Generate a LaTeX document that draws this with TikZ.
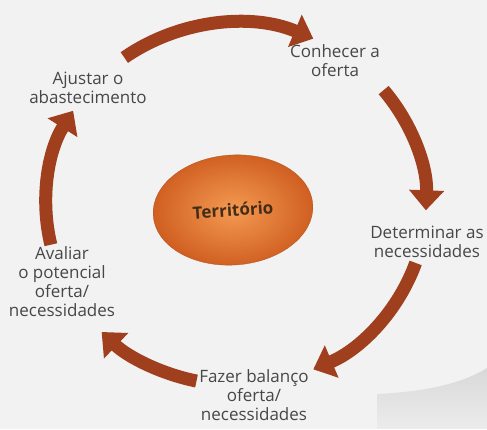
\documentclass[tikz,border=0pt]{standalone}
\usepackage{fontspec}
\setmainfont{Open Sans}
\usepackage{tikz}
\usetikzlibrary{shapes.geometric, arrows.meta, positioning}
\definecolor{fundo}{HTML}{F2F2F3}
\definecolor{seta}{HTML}{A03F1E}
\definecolor{texto}{HTML}{474747}
\definecolor{laranja}{HTML}{F49A52}
\definecolor{laranjaesc}{HTML}{CF5E20}
\tikzset{
  etapa/.style = {
    align=center,
    text=texto,
    font=\fontsize{17}{19}\selectfont
  },
  centro/.style = {
    ellipse,
    minimum width=160pt,
    minimum height=110pt,
    inner color=laranja,
    outer color=laranjaesc,
    draw=laranjaesc!85!black,
    line width=0.3pt,
    text=black!65!brown,
    font=\fontsize{17}{19}\selectfont\bfseries,
    rotate=4
  },
  fluxo/.style = {
    line width=13pt,
    draw=seta,
    -{Triangle[length=20pt,width=34pt]}
  }
}

\begin{document}
\begin{tikzpicture}[x=1pt, y=1pt]

% ===== Fundo =====
\fill[fundo] (-236,-225) rectangle (251,204);
\useasboundingbox (-236,-225) rectangle (251,204);
\shade[top color=gray!30, bottom color=gray!15]
  (141,-225) -- (141,-190) .. controls (184,-188) and (224,-181) .. (251,-164)
  -- (251,-225) -- cycle;

% ===== Centro =====
\node (terr) [centro] at (-3,-6) {Território};

% ===== Etapas (sentido horário) =====
\node (conh) [etapa] at (99,143)   {Conhecer a\\oferta};
\node (dete) [etapa] at (191,-38)  {Determinar as\\necessidades};
\node (faze) [etapa] at (18,-191)  {Fazer balanço\\oferta/\\necessidades};
\node (aval) [etapa] at (-174,-78) {Avaliar\\o potencial\\oferta/\\necessidades};
\node (ajus) [etapa] at (-148,116) {Ajustar o\\abastecimento};

% ===== Pontos de partida das setas =====
\coordinate (p1) at (126:190 and 181);
\coordinate (p2) at (39:190 and 181);
\coordinate (p3) at (-19:190 and 181);
\coordinate (p4) at (-102:190 and 181);
\coordinate (p5) at (-167:190 and 181);

% ===== Setas (ciclo) =====
\draw [fluxo] (p1) arc[start angle=126, end angle=66, x radius=190pt, y radius=181pt];   % ajustar -> conhecer
\draw [fluxo] (p2) arc[start angle=39, end angle=-2, x radius=190pt, y radius=181pt];    % conhecer -> determinar
\draw [fluxo] (p3) arc[start angle=-19, end angle=-66, x radius=190pt, y radius=181pt];  % determinar -> balanco
\draw [fluxo] (p4) arc[start angle=-102, end angle=-135, x radius=190pt, y radius=181pt]; % balanco -> avaliar
\draw [fluxo] (p5) arc[start angle=-167, end angle=-211, x radius=190pt, y radius=181pt]; % avaliar -> ajustar

\end{tikzpicture}
\end{document}
